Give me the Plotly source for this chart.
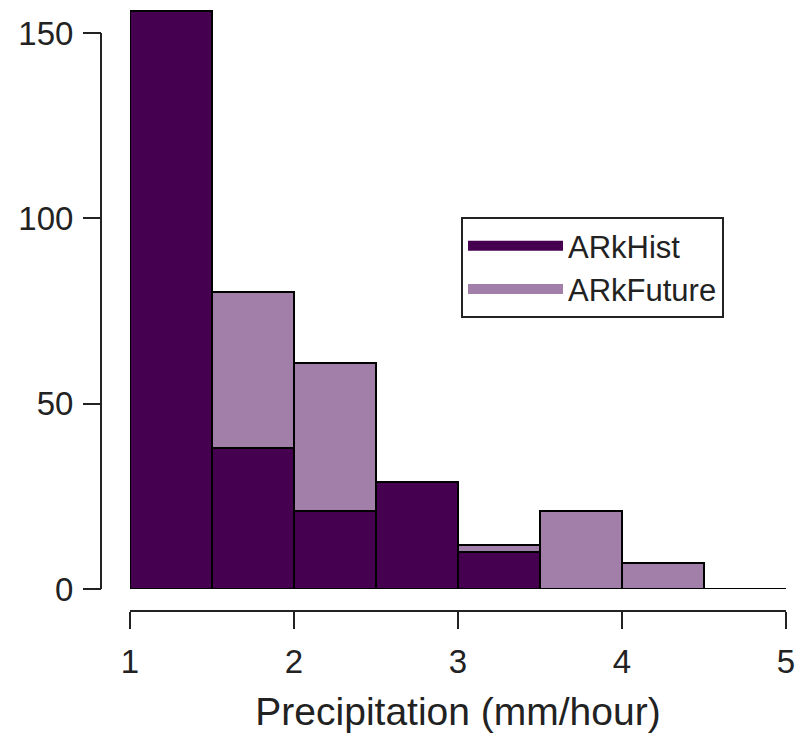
import plotly.graph_objects as go

# Data
bin_edges = [1.0, 1.5, 2.0, 2.5, 3.0, 3.5, 4.0, 4.5, 5.0]
hist_counts = [156, 38, 21, 29, 10, 0, 0, 0]
future_counts = [120, 80, 61, 25, 12, 21, 7, 0]
x_ticks = [1, 2, 3, 4, 5]
y_ticks = [0, 50, 100, 150]

HIST_COL = "#45004F"
FUT_COL = "#A27FA8"
FONT = "Liberation Sans, Arial, sans-serif"
AX_COL = "#222222"

# the page body has an 8px margin: lay out in screen pixels, shifted by OFF
OFF = 8
W, H = 812 - OFF, 750 - OFF


def fx(px):
    return (px - OFF) / W


def fy(py):
    return 1 - (py - OFF) / H


centers = [(a + b) / 2 for a, b in zip(bin_edges[:-1], bin_edges[1:])]
widths = [b - a for a, b in zip(bin_edges[:-1], bin_edges[1:])]

# screen pixel positions of the axes in the reference
x_left_px, x_right_px = 130, 786
y0_px, y150_px = 589, 33
top_px = 9
px_per_unit = (y0_px - y150_px) / 150.0
y_top = (y0_px - top_px) / px_per_unit

fig = go.Figure()
fig.add_trace(go.Bar(x=centers, y=future_counts, width=widths,
                     marker=dict(color=FUT_COL, line=dict(color="black", width=2)), showlegend=False))
fig.add_trace(go.Bar(x=centers, y=hist_counts, width=widths,
                     marker=dict(color=HIST_COL, line=dict(color="black", width=2)), showlegend=False))
# legend entries as thick lines
fig.add_trace(go.Scatter(x=[None], y=[None], mode="lines", name="ARkHist",
                         line=dict(color=HIST_COL, width=15)))
fig.add_trace(go.Scatter(x=[None], y=[None], mode="lines", name="ARkFuture",
                         line=dict(color=FUT_COL, width=15)))

fig.update_layout(
    width=W, height=H,
    margin=dict(l=0, r=0, t=0, b=0, autoexpand=False),
    paper_bgcolor="white", plot_bgcolor="white",
    barmode="overlay", bargap=0,
    font=dict(family=FONT, size=33, color=AX_COL),
    xaxis=dict(
        domain=[fx(x_left_px), fx(x_right_px)],
        range=[1, 5],
        anchor="free", position=fy(611),
        showline=True, linecolor=AX_COL, linewidth=2,
        ticks="outside", ticklen=17, tickwidth=2, tickcolor=AX_COL,
        tickvals=x_ticks, ticklabelstandoff=4,
        showgrid=False, zeroline=False, automargin=False,
        title=dict(text="Precipitation (mm/hour)", font=dict(size=39), standoff=18),
    ),
    yaxis=dict(
        domain=[fy(y0_px), fy(top_px)],
        range=[0, y_top],
        anchor="free", position=fx(101),
        showline=False,
        ticks="outside", ticklen=18, tickwidth=2, tickcolor=AX_COL,
        tickvals=y_ticks, ticklabelstandoff=3,
        showgrid=False, zeroline=False, automargin=False,
    ),
    legend=dict(
        x=fx(461), y=fy(217), xanchor="left", yanchor="top",
        bgcolor="white", bordercolor=AX_COL, borderwidth=2,
        font=dict(size=31, family=FONT), itemwidth=95,
    ),
    shapes=[
        dict(type="line", xref="paper", yref="y", x0=fx(101), x1=fx(101), y0=0, y1=150,
             line=dict(color=AX_COL, width=2)),
        dict(type="line", xref="x", yref="y", x0=1, x1=5, y0=0, y1=0,
             line=dict(color=AX_COL, width=2), layer="below"),
    ],
)

fig.write_html("out.html")
